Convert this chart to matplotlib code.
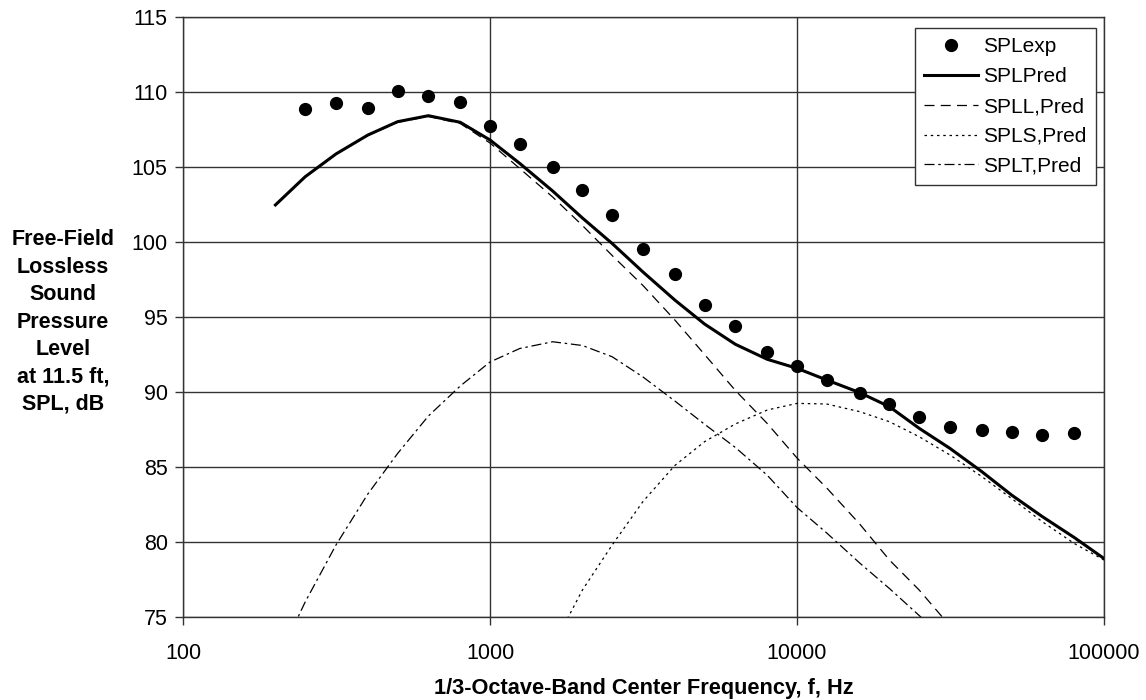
import numpy as np
import matplotlib
matplotlib.use("Agg")
import matplotlib.pyplot as plt
from matplotlib.ticker import FixedLocator, FixedFormatter, NullLocator

plt.rcParams['font.family'] = ['Liberation Sans', 'DejaVu Sans']

# 1/3-octave band centre frequencies, Hz
freq_exp = [250, 315, 400, 500, 630, 800, 1000, 1250, 1600, 2000, 2500, 3150, 4000, 5000,
            6300, 8000, 10000, 12500, 16000, 20000, 25000, 31500, 40000, 50000, 63000, 80000]
spl_exp = [108.85, 109.24, 108.96, 110.09, 109.73, 109.36, 107.73, 106.51, 105.02, 103.47,
           101.8, 99.56, 97.84, 95.78, 94.38, 92.67, 91.73, 90.77, 89.93, 89.18,
           88.36, 87.69, 87.47, 87.36, 87.13, 87.24]

freq_pred = [200, 250, 315, 400, 500, 630, 800, 1000, 1250, 1600, 2000, 2500, 3150, 4000,
             5000, 6300, 8000, 10000, 12500, 16000, 20000, 25000, 31500, 40000, 50000,
             63000, 80000, 100000]
spl_pred = [102.47, 104.35, 105.87, 107.13, 108.02, 108.42, 107.98, 106.8, 105.24, 103.4,
            101.6, 99.9, 98.0, 96.13, 94.53, 93.18, 92.18, 91.58, 90.8, 89.96,
            89.02, 87.58, 86.24, 84.69, 83.13, 81.69, 80.3, 78.9]

# large-scale mixing component
freq_l = [200, 250, 315, 400, 500, 630, 800, 1000, 1250, 1600, 2000, 2500, 3150, 4000,
          5000, 6300, 8000, 10000, 12500, 16000, 20000, 25000, 31500, 40000]
spl_l = [102.45, 104.33, 105.85, 107.1, 107.98, 108.37, 107.9, 106.6, 104.9, 103.0,
         101.1, 99.1, 97.1, 94.8, 92.5, 90.1, 87.9, 85.6, 83.6, 81.2,
         78.8, 76.8, 74.4, 72.0]

# shock component
freq_s = [1250, 1600, 2000, 2500, 3150, 4000, 5000, 6300, 8000, 10000, 12500, 16000,
          20000, 25000, 31500, 40000, 50000, 63000, 80000, 100000]
spl_s = [69.5, 73.0, 76.8, 79.8, 82.7, 85.1, 86.69, 87.87, 88.8, 89.24, 89.2, 88.69,
         88.02, 87.02, 85.8, 84.36, 82.9, 81.35, 79.9, 78.8]

# turbulence component
freq_t = [200, 250, 315, 400, 500, 630, 800, 1000, 1250, 1600, 2000, 2500, 3150, 4000,
          5000, 6300, 8000, 10000, 12500, 16000, 20000, 25000, 31500]
spl_t = [71.8, 76.0, 79.8, 83.2, 85.9, 88.4, 90.4, 92.0, 92.9, 93.35, 93.1, 92.35,
         91.0, 89.4, 87.85, 86.3, 84.45, 82.3, 80.6, 78.6, 76.9, 75.1, 73.2]

fig = plt.figure(figsize=(11.46, 7.0), dpi=100)
ax = fig.add_axes([183 / 1146, 1 - 617 / 700, (1104 - 183) / 1146, 600 / 700])

ax.plot(freq_exp, spl_exp, 'o', color='black', markersize=8.5, label='SPLexp', zorder=5)
ax.plot(freq_pred, spl_pred, '-', color='black', linewidth=2.2, label='SPLPred', zorder=4)
ax.plot(freq_l, spl_l, color='black', linewidth=0.9, dashes=(8, 5), label='SPLL,Pred')
ax.plot(freq_s, spl_s, color='black', linewidth=0.9, dashes=(2, 3), label='SPLS,Pred')
ax.plot(freq_t, spl_t, color='black', linewidth=0.9, dashes=(8, 3, 2, 3), label='SPLT,Pred')

ax.set_xscale('log')
ax.set_xlim(100, 100000)
ax.set_ylim(75, 115)
decades = [100, 1000, 10000, 100000]
ax.xaxis.set_major_locator(FixedLocator(decades))
ax.xaxis.set_major_formatter(FixedFormatter([str(d) for d in decades]))
ax.xaxis.set_minor_locator(NullLocator())
ax.set_yticks(np.arange(75, 116, 5))

ax.grid(True, color='#333333', linewidth=1.0)
ax.set_axisbelow(True)
for s in ax.spines.values():
    s.set_color('#333333')
    s.set_linewidth(1.0)
ax.tick_params(direction='out', length=6, width=1, color='#333333', labelsize=15.5, pad=5)
ax.tick_params(axis='x', pad=13)

ax.set_xlabel('1/3-Octave-Band Center Frequency, f, Hz', fontsize=15.7, fontweight='bold', labelpad=10)
fig.text(63 / 1146, 1 - 322 / 700,
         'Free-Field\nLossless\nSound\nPressure\nLevel\nat 11.5 ft,\nSPL, dB',
         ha='center', va='center', fontsize=15.5, fontweight='bold', linespacing=1.4)

leg = ax.legend(loc='upper right', bbox_to_anchor=(1096 / 1146, 1 - 28 / 700),
                bbox_transform=fig.transFigure,
                fontsize=15, frameon=True, fancybox=False, edgecolor='#333333',
                framealpha=1, borderpad=0.45, labelspacing=0.52, handlelength=2.6,
                handletextpad=0.25, borderaxespad=0)
leg.get_frame().set_linewidth(1.0)

fig.savefig('out.png', dpi=100)
